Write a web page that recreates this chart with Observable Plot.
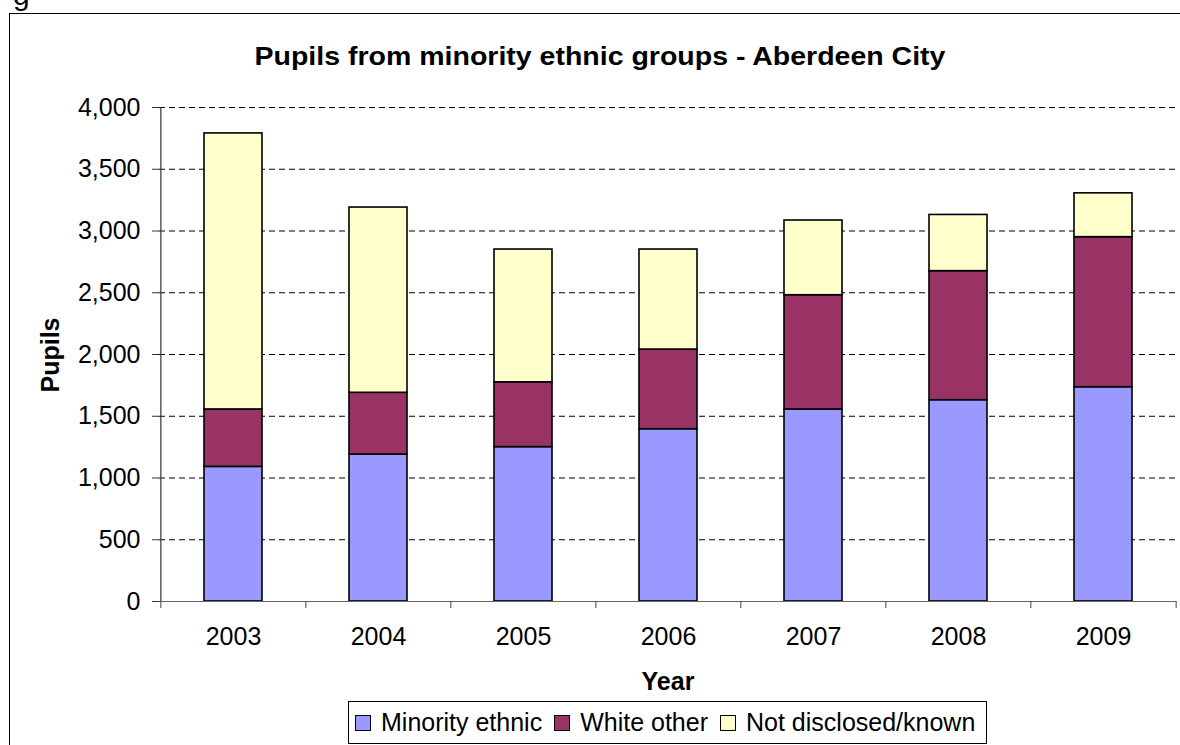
<!DOCTYPE html>
<html><head><meta charset="utf-8">
<script src="https://cdn.jsdelivr.net/npm/d3@7"></script>
<script src="https://cdn.jsdelivr.net/npm/@observablehq/plot@0.6"></script>
<style>
body{margin:0;background:#fff;font-family:Arial,"Liberation Sans",sans-serif;color:#000;}
#wrap{position:relative;width:1180px;height:745px;overflow:hidden;background:#fff;}
#frame{position:absolute;left:9px;top:13px;width:1300px;height:900px;border:1px solid #000;box-sizing:border-box;}
#fig{position:absolute;left:13px;top:-20px;font-size:30px;line-height:30px;}
#title{position:absolute;left:100px;width:1000px;top:44px;text-align:center;font-weight:bold;font-size:25px;line-height:25px;transform:scaleX(1.14);transform-origin:50% 50%;white-space:nowrap;}
#chart{position:absolute;left:0;top:0;}
#ylab{position:absolute;left:50px;top:354.5px;transform:translate(-50%,-50%) rotate(-90deg);font-weight:bold;font-size:25px;line-height:25px;white-space:nowrap;}
#xlab{position:absolute;left:568px;width:200px;top:669px;text-align:center;font-weight:bold;font-size:25px;line-height:25px;}
#legend{position:absolute;left:348px;top:701px;width:639px;height:43px;border:1px solid #000;box-sizing:border-box;display:flex;align-items:center;padding-left:6px;font-size:25px;line-height:25px;white-space:nowrap;}
.item{display:flex;align-items:center;margin-right:12px;}
.sw{width:14px;height:14px;border:1px solid #000;margin-right:10px;}
</style></head><body>
<div id="wrap">
  <div id="frame"></div>
  <div id="fig">g</div>
  <div id="title">Pupils from minority ethnic groups - Aberdeen City</div>
  <div id="chart"></div>
  <div id="ylab">Pupils</div>
  <div id="xlab">Year</div>
  <div id="legend"></div>
</div>
<script>
const years = ["2003","2004","2005","2006","2007","2008","2009"];
const minority = [1090, 1190, 1250, 1395, 1555, 1630, 1735];
const whiteOther = [465, 500, 525, 645, 925, 1045, 1215];
const notDisclosed = [2235, 1500, 1075, 810, 605, 455, 355];
const seriesNames = ["Minority ethnic", "White other", "Not disclosed/known"];
const seriesColors = ["#9999FF", "#993366", "#FFFFCC"];
const yTicks = [0, 500, 1000, 1500, 2000, 2500, 3000, 3500, 4000];

const seriesValues = [minority, whiteOther, notDisclosed];
const rows = [];
years.forEach((y, i) => {
  seriesNames.forEach((s, j) => rows.push({year: y, series: s, value: seriesValues[j][i]}));
});

const W = 1180, H = 700, ML = 159, MR = 4, MT = 107, MB = 99;
const step = (W - ML - MR) / years.length;

const chart = Plot.plot({
  width: W, height: H,
  marginLeft: ML, marginRight: MR, marginTop: MT, marginBottom: MB,
  x: {domain: years, paddingInner: 0.6, paddingOuter: 0.3, label: null},
  y: {domain: [0, 4000], label: null},
  color: {domain: seriesNames, range: seriesColors},
  style: {fontFamily: "Arial, 'Liberation Sans', sans-serif", fontSize: "25px", color: "#000", background: "transparent", overflow: "visible"},
  marks: [
    Plot.gridY(yTicks.filter(d => d > 0), {stroke: "#000", strokeOpacity: 1, strokeWidth: 1, strokeDasharray: "6,4"}),
    Plot.axisY(yTicks, {tickFormat: d3.format(","), tickSize: 7, tickPadding: 12, fontSize: 25, label: null, stroke: "#333"}),
    Plot.axisX({tickSize: 0, tickPadding: 26, fontSize: 25, label: null}),
    Plot.barY(rows, {x: "year", y: "value", fill: "series", stroke: "#000", strokeWidth: 1.6}),
    Plot.ruleY([0], {stroke: "#666", strokeWidth: 1.2}),
    Plot.ruleX(years, {x: d => d, dx: -step / 2, y1: 0, y2: -57, stroke: "#444"}),
    Plot.ruleX([years[years.length - 1]], {x: d => d, dx: step / 2, y1: 0, y2: -57, stroke: "#444"}),
    Plot.ruleX([years[0]], {x: d => d, dx: -step / 2, y1: 0, y2: 4000, stroke: "#333", strokeWidth: 1.2})
  ]
});
document.getElementById("chart").appendChild(chart);

const legend = document.getElementById("legend");
seriesNames.forEach((s, j) => {
  const it = document.createElement("div");
  it.className = "item";
  const sw = document.createElement("div");
  sw.className = "sw";
  sw.style.background = seriesColors[j];
  const t = document.createElement("span");
  t.textContent = s;
  it.appendChild(sw); it.appendChild(t);
  legend.appendChild(it);
});
</script>
</body></html>
